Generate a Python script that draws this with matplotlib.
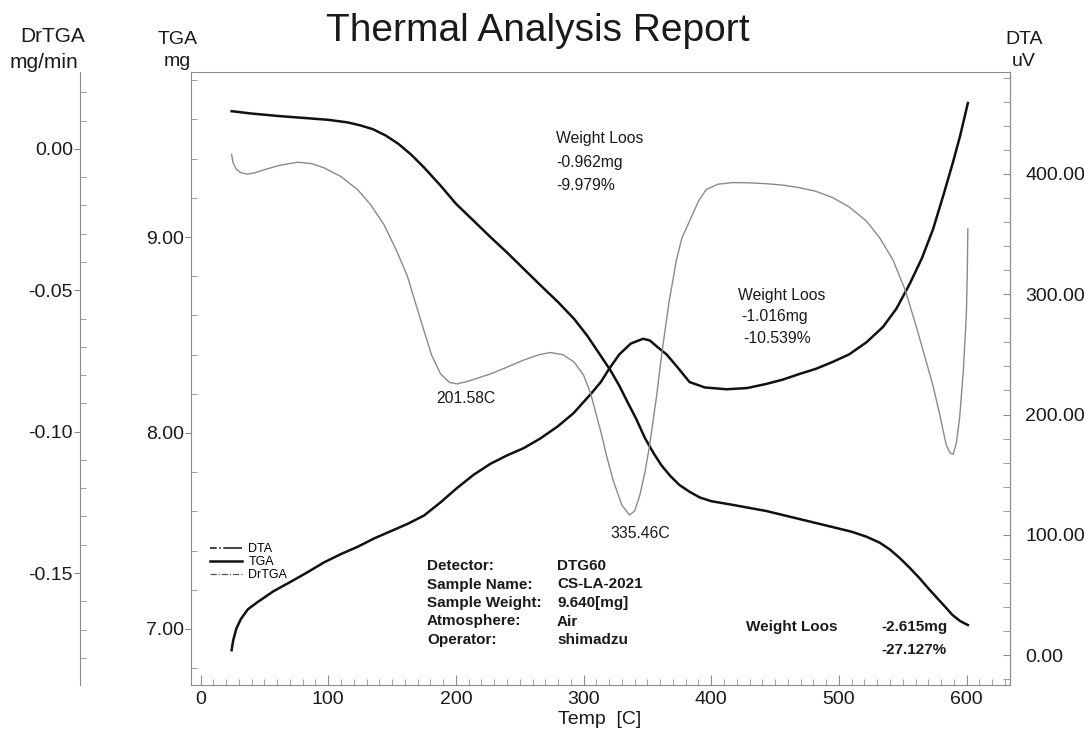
import numpy as np
import matplotlib.pyplot as plt
from matplotlib.lines import Line2D
from matplotlib.ticker import MultipleLocator, FuncFormatter

plt.rcParams['font.family'] = ['Liberation Sans', 'DejaVu Sans']

# TGA (mg) vs temperature (C)
temp_tga = [24.3, 40, 60, 80, 100, 115, 125, 135, 145, 155, 165, 175, 188, 200,
            214, 227, 240, 253, 266.5, 280, 292.6, 303, 313.5, 321, 328, 335,
            341, 348, 355, 361, 368, 375, 383, 391, 400, 417, 443, 469, 495,
            510, 521.5, 532, 540, 547.6, 555, 563, 571, 579, 585, 589, 595, 601]
tga = [9.642, 9.630, 9.618, 9.608, 9.598, 9.585, 9.570, 9.550, 9.518, 9.475,
       9.420, 9.355, 9.262, 9.170, 9.082, 9.000, 8.921, 8.838, 8.752, 8.668,
       8.582, 8.495, 8.393, 8.320, 8.241, 8.150, 8.075, 7.975, 7.895, 7.835,
       7.780, 7.735, 7.700, 7.671, 7.652, 7.633, 7.602, 7.561, 7.520, 7.496,
       7.471, 7.440, 7.405, 7.362, 7.315, 7.260, 7.200, 7.143, 7.100, 7.071,
       7.040, 7.020]

# DTA (uV)
temp_dta = [24.3, 25.5, 28, 31.6, 37, 44.6, 57, 70.7, 84, 96.6, 110, 123, 136,
            149, 162, 175, 188, 201, 214, 227, 240, 253, 266, 279.6, 292,
            305.6, 313.5, 320, 328, 337, 346.6, 352, 358, 365, 373, 383, 395,
            412, 428, 443, 456, 469, 482, 495, 508, 521.5, 534.5, 545, 555.4,
            565, 573.7, 582, 589.4, 595, 601]
dta = [4, 12, 22, 30, 38, 44, 53, 61, 69, 77, 84, 90, 97, 103, 109, 116, 127,
       139, 150, 159, 166, 172, 180, 190, 201, 217, 227, 238, 250, 259, 263,
       261.5, 256, 250, 240, 227, 222.5, 221, 222, 225.4, 229, 233.7, 238,
       243.7, 250, 260, 272.8, 288, 308.5, 330, 354, 383, 410, 432, 459]

# DrTGA (mg/min)
temp_dtg = [24.3, 25.5, 28, 32, 36.8, 42, 49.6, 62, 76, 87, 96.8, 110, 123, 133,
            143.8, 153, 162, 168, 175, 181, 188, 195, 201, 210, 227, 240, 253,
            265, 274, 284, 292.6, 300, 305.6, 313.5, 318, 323, 330, 336, 340,
            344, 348, 351.8, 357, 362, 367, 372.7, 377, 383, 390, 396, 405, 417,
            430, 443, 456, 469, 482, 495, 508, 521.5, 532, 542.4, 552, 560.7,
            567, 573.7, 579, 584, 587, 589.4, 592, 594.6, 597.5, 599.8, 600.5,
            601]
dtg = [-0.0019, -0.0050, -0.0072, -0.0085, -0.0089, -0.0085, -0.0074, -0.0058,
       -0.0047, -0.0052, -0.0067, -0.0098, -0.0144, -0.0196, -0.0269, -0.0355,
       -0.0450, -0.0540, -0.0643, -0.0730, -0.0796, -0.0826, -0.0831, -0.0821,
       -0.0796, -0.0772, -0.0747, -0.0728, -0.0720, -0.0728, -0.0754, -0.0800,
       -0.0866, -0.1000, -0.1085, -0.1170, -0.1260, -0.1295, -0.1280, -0.1226,
       -0.1145, -0.1046, -0.0880, -0.0699, -0.0540, -0.0393, -0.0315, -0.0255,
       -0.0185, -0.0144, -0.0125, -0.0119, -0.0120, -0.0123, -0.0128, -0.0137,
       -0.0150, -0.0172, -0.0205, -0.0255, -0.0315, -0.0393, -0.0500, -0.0630,
       -0.0730, -0.0838, -0.0940, -0.1046, -0.1075, -0.1080, -0.1040, -0.0948,
       -0.0780, -0.0587, -0.0450, -0.0283]

info_keys = ['Detector:', 'Sample Name:', 'Sample Weight:', 'Atmosphere:', 'Operator:']
info_vals = ['DTG60', 'CS-LA-2021', '9.640[mg]', 'Air', 'shimadzu']

W, H = 1084, 731
TXT = '#1a1a1a'
SPINE = '#8c8c8c'


def fx(px):
    return px / W


def fy(py):
    return 1 - py / H


def fmt2(v, p):
    s = '%.2f' % v
    return '0.00' if s == '-0.00' else s


fig = plt.figure(figsize=(W / 100, H / 100), dpi=100)
ax = fig.add_axes([fx(191), fy(685), (1010 - 191) / W, (685 - 72) / H])
ax_dta = ax.twinx()
ax_dtg = ax.twinx()

ax.plot(temp_tga, tga, color='#111111', lw=1.8, zorder=3)
ax_dta.plot(temp_dta, dta, color='#111111', lw=1.8)
ax_dtg.plot(temp_dtg, dtg, color='#8a8a8a', lw=1.0)

ax.set_xlim(-7.5, 634)
ax.set_ylim(6.714, 9.842)
ax_dta.set_ylim(-24.9, 484.8)
ax_dtg.set_ylim(-0.1896, 0.0272)

for s in ax.spines.values():
    s.set_color(SPINE)
for s in ['left', 'top', 'bottom']:
    ax_dta.spines[s].set_visible(False)
ax_dta.spines['right'].set_color(SPINE)
for s in ['right', 'top', 'bottom']:
    ax_dtg.spines[s].set_visible(False)
ax_dtg.spines['left'].set_position(('axes', (80 - 191) / 819))
ax_dtg.spines['left'].set_visible(True)
ax_dtg.spines['left'].set_color(SPINE)
ax_dtg.yaxis.set_ticks_position('left')
ax_dtg.yaxis.set_label_position('left')

# x axis
ax.xaxis.set_major_locator(MultipleLocator(100))
ax.xaxis.set_minor_locator(MultipleLocator(10))
ax.tick_params(axis='x', which='both', direction='in', top=False, colors=SPINE,
               labelcolor=TXT, labelsize=14, pad=4)
ax.tick_params(axis='x', which='major', length=7)
ax.tick_params(axis='x', which='minor', length=4)

# TGA axis
ax.yaxis.set_major_locator(MultipleLocator(1))
ax.yaxis.set_minor_locator(MultipleLocator(0.2))
ax.yaxis.set_major_formatter(FuncFormatter(fmt2))
ax.tick_params(axis='y', which='major', direction='out', length=4, pad=1,
               colors=SPINE, labelcolor=TXT, labelsize=14)
ax.tick_params(axis='y', which='minor', direction='in', length=4, colors=SPINE)

# DTA axis
ax_dta.yaxis.set_major_locator(MultipleLocator(100))
ax_dta.yaxis.set_minor_locator(MultipleLocator(20))
ax_dta.yaxis.set_major_formatter(FuncFormatter(fmt2))
ax_dta.tick_params(axis='y', which='both', direction='in', length=5, pad=11,
                   colors=SPINE, labelcolor=TXT, labelsize=14)

# DrTGA axis
ax_dtg.yaxis.set_major_locator(MultipleLocator(0.05))
ax_dtg.yaxis.set_minor_locator(MultipleLocator(0.01))
ax_dtg.yaxis.set_major_formatter(FuncFormatter(fmt2))
ax_dtg.tick_params(axis='y', which='major', direction='out', length=4, pad=1,
                   colors=SPINE, labelcolor=TXT, labelsize=14)
ax_dtg.tick_params(axis='y', which='minor', direction='in', length=4, colors=SPINE)

# headers
fig.text(fx(538), fy(31), 'Thermal Analysis Report', fontsize=28, color=TXT,
         ha='center', va='center')
fig.text(fx(53), fy(36), 'DrTGA', fontsize=15, color=TXT, ha='center', va='center')
fig.text(fx(44), fy(62), 'mg/min', fontsize=15, color=TXT, ha='center', va='center')
fig.text(fx(178), fy(39), 'TGA', fontsize=14, color=TXT, ha='center', va='center')
fig.text(fx(177), fy(61), 'mg', fontsize=14, color=TXT, ha='center', va='center')
fig.text(fx(1024), fy(39), 'DTA', fontsize=14, color=TXT, ha='center', va='center')
fig.text(fx(1024), fy(61), 'uV', fontsize=14, color=TXT, ha='center', va='center')
fig.text(fx(600), fy(719), 'Temp  [C]', fontsize=14, color=TXT, ha='center', va='center')

# annotations
ann = dict(fontsize=11.3, color=TXT, va='center')
fig.text(fx(556), fy(139), 'Weight Loos', **ann)
fig.text(fx(556), fy(162), '-0.962mg', **ann)
fig.text(fx(556), fy(185), '-9.979%', **ann)
fig.text(fx(738), fy(295), 'Weight Loos', **ann)
fig.text(fx(741), fy(317), '-1.016mg', **ann)
fig.text(fx(743), fy(338), '-10.539%', **ann)
fig.text(fx(466), fy(399), '201.58C', ha='center', fontsize=11.3, color=TXT, va='center')
fig.text(fx(640), fy(533), '335.46C', ha='center', fontsize=11.3, color=TXT, va='center')

bold = dict(fontsize=11, color=TXT, va='center', fontweight='bold')
for i, (k, v) in enumerate(zip(info_keys, info_vals)):
    yy = 566 + i * 18.5
    fig.text(fx(427), fy(yy), k, **bold)
    fig.text(fx(557), fy(yy), v, **bold)
fig.text(fx(746), fy(627), 'Weight Loos', **bold)
fig.text(fx(881), fy(627), '-2.615mg', **bold)
fig.text(fx(881), fy(650), '-27.127%', **bold)

# legend
handles = [Line2D([], [], color='#222222', lw=1.2, ls=(0, (4, 1.5, 1, 1.5, 12, 0))),
           Line2D([], [], color='#111111', lw=1.8),
           Line2D([], [], color='#555555', lw=0.9, ls=(0, (5, 1.5, 1, 1.5)))]
ax.legend(handles, ['DTA', 'TGA', 'DrTGA'], loc='upper left',
          bbox_to_anchor=(0.015, 0.242), frameon=False, fontsize=9,
          handlelength=2.6, handletextpad=0.5, labelspacing=0.08, borderpad=0)

fig.savefig('out.png', dpi=100)
